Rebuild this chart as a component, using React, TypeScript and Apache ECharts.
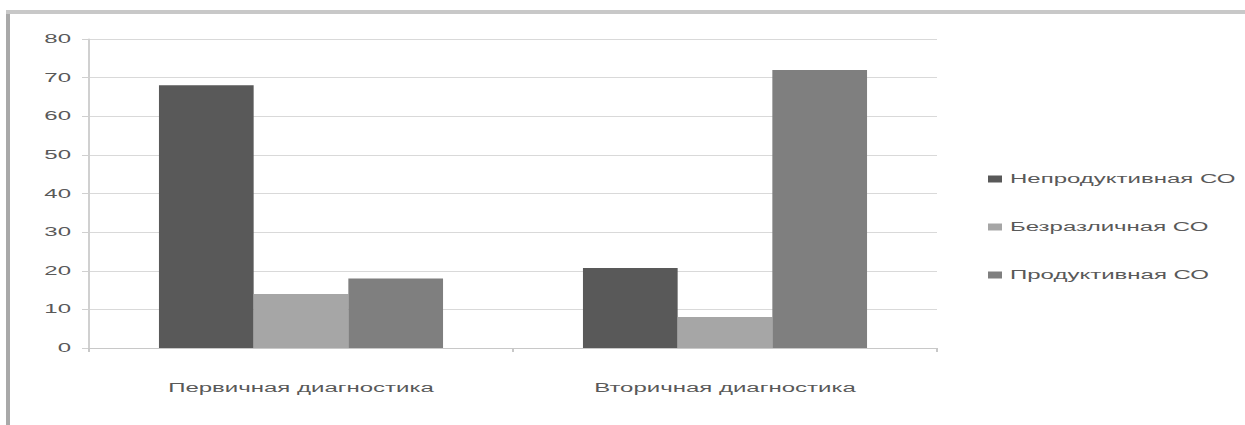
import React, { useEffect, useRef } from "react";
import * as echarts from "echarts";

const categories = ["Первичная диагностика", "Вторичная диагностика"];
const seriesNames = ["Непродуктивная СО", "Безразличная СО", "Продуктивная СО"];
const unproductive = [68, 20.7];
const indifferent = [14, 8];
const productive = [18, 72];
const yTicks = { min: 0, max: 80, interval: 10 };

const colors = ["#595959", "#a6a6a6", "#7f7f7f"];
const FONT = "Liberation Sans";

export default function App() {
  const ref = useRef<HTMLDivElement>(null);
  useEffect(() => {
    if (!ref.current) return;
    const chart = echarts.init(ref.current, undefined, { renderer: "svg" });
    const values = [unproductive, indifferent, productive];
    chart.setOption({
      animation: false,
      backgroundColor: "#ffffff",
      textStyle: { fontFamily: FONT },
      grid: { left: 44.5, right: 154.5, top: 39, bottom: 77 },
      legend: {
        orient: "vertical",
        left: 489,
        top: 167,
        itemWidth: 7,
        itemHeight: 7,
        itemGap: 34,
        icon: "rect",
        textStyle: { fontFamily: FONT, fontSize: 12, color: "#595959", lineHeight: 14, padding: [0, 0, 0, -1] },
        data: seriesNames,
      },
      xAxis: {
        type: "category",
        data: categories,
        axisLine: { show: true, lineStyle: { color: "#c8c8c8", width: 1 } },
        axisTick: { show: true, length: 4, lineStyle: { color: "#c8c8c8" } },
        axisLabel: { margin: 34, fontFamily: FONT, fontSize: 12, color: "#595959" },
      },
      yAxis: {
        type: "value",
        min: yTicks.min,
        max: yTicks.max,
        interval: yTicks.interval,
        axisLine: { show: true, lineStyle: { color: "#d0d0d0" } },
        axisTick: { show: true, length: 3.5, lineStyle: { color: "#d0d0d0" } },
        splitLine: { show: true, lineStyle: { color: "#d9d9d9", width: 1 } },
        axisLabel: { margin: 9, fontFamily: FONT, fontSize: 12, color: "#595959" },
      },
      series: seriesNames.map((name, i) => ({
        name,
        type: "bar",
        data: values[i],
        barGap: "0%",
        barCategoryGap: "33%",
        itemStyle: { color: colors[i] },
      })),
      graphic: [
        {
          type: "line",
          shape: { x1: 4, y1: 12, x2: 4, y2: 440 },
          style: { stroke: "#a9a9a9", lineWidth: 2 },
          silent: true,
        },
        {
          type: "line",
          shape: { x1: 3, y1: 12, x2: 640, y2: 12 },
          style: { stroke: "#c8c8c8", lineWidth: 4 },
          silent: true,
        },
      ],
    });
    return () => chart.dispose();
  }, []);
  return (
    <div
      ref={ref}
      style={{
        position: "fixed",
        left: 0,
        top: 0,
        width: "622.5px",
        height: "425px",
        transform: "scaleX(2)",
        transformOrigin: "0 0",
      }}
    />
  );
}
